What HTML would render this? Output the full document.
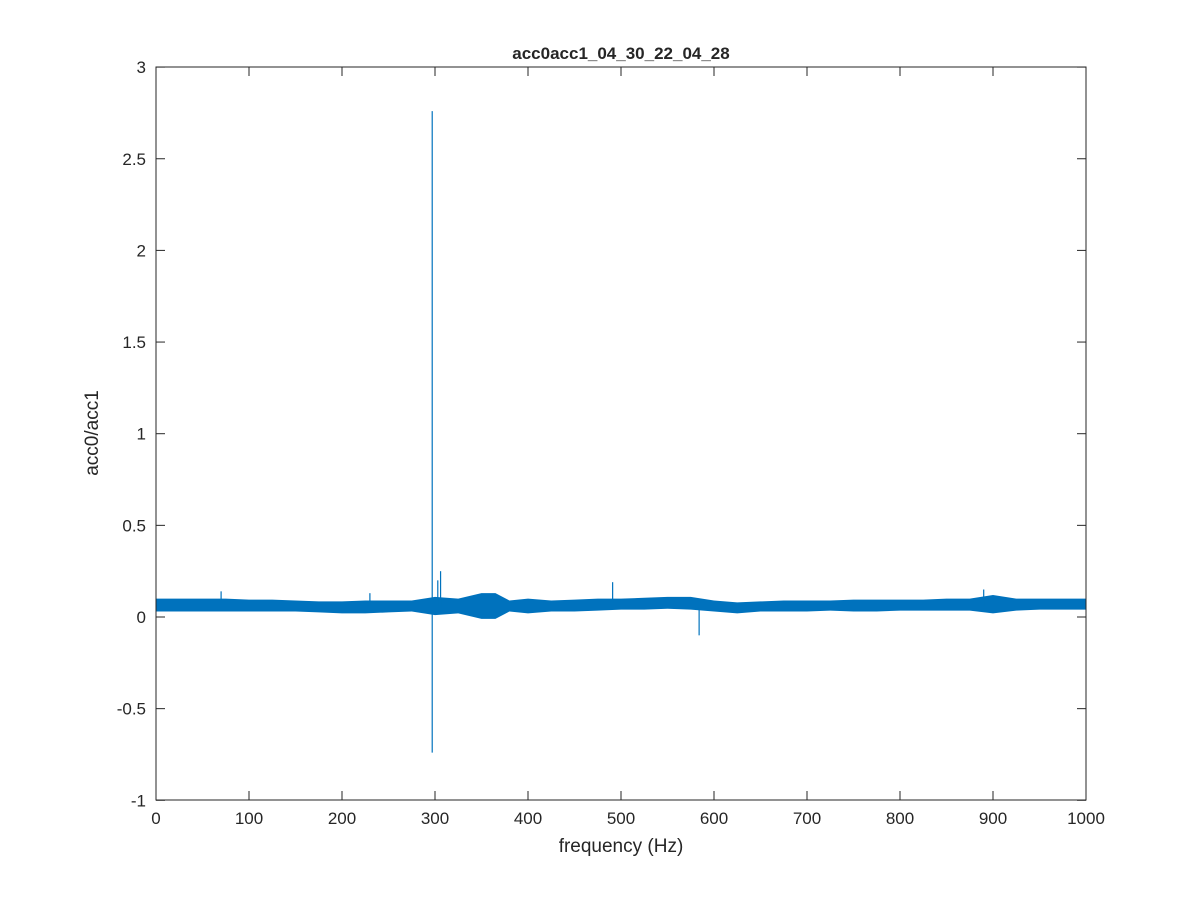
<!DOCTYPE html>
<html><head><meta charset="utf-8"><style>
body{margin:0;background:#fff;}
svg text{font-family:"Liberation Sans",sans-serif;fill:#262626;}
</style></head><body>
<svg id="chart" width="1200" height="900" xmlns="http://www.w3.org/2000/svg">
<rect width="1200" height="900" fill="#fff"/>
<text x="621" y="59" text-anchor="middle" font-size="17" font-weight="bold" fill="#000">acc0acc1_04_30_22_04_28</text>
<g id="plot"></g>
<text x="621" y="852" text-anchor="middle" font-size="19">frequency (Hz)</text>
<text transform="translate(98,433) rotate(-90)" text-anchor="middle" font-size="19">acc0/acc1</text>
</svg>
<script>
const xTicks=[0,100,200,300,400,500,600,700,800,900,1000];
const yTicks=[-1,-0.5,0,0.5,1,1.5,2,2.5,3];
const binFreq=[0,25,50,75,100,125,150,175,200,225,250,275,300,325,350,365,380,400,425,450,475,500,525,550,575,600,625,650,675,700,725,750,775,800,825,850,875,900,925,950,975,1000];
const binLo=[0.03,0.03,0.03,0.03,0.03,0.03,0.03,0.025,0.02,0.02,0.025,0.03,0.01,0.02,-0.01,-0.01,0.03,0.02,0.03,0.03,0.035,0.04,0.04,0.045,0.04,0.03,0.02,0.03,0.03,0.03,0.035,0.03,0.03,0.035,0.035,0.035,0.035,0.02,0.035,0.04,0.04,0.04];
const binHi=[0.1,0.1,0.1,0.1,0.095,0.095,0.09,0.085,0.085,0.09,0.09,0.09,0.11,0.1,0.13,0.13,0.09,0.1,0.09,0.095,0.1,0.1,0.105,0.11,0.11,0.09,0.08,0.085,0.09,0.09,0.09,0.095,0.095,0.095,0.095,0.1,0.1,0.12,0.1,0.1,0.1,0.1];
const spikeFreq=[297,297,303,306,230,491,584,890,70];
const spikeVal=[2.76,-0.74,0.2,0.25,0.13,0.19,-0.1,0.15,0.14];
const X=v=>156+(v/1000)*930;
const Y=v=>617-(v)*183.3;
const NS='http://www.w3.org/2000/svg';
const g=document.getElementById('plot');
function mk(t,a){const e=document.createElementNS(NS,t);for(const k in a)e.setAttribute(k,a[k]);g.appendChild(e);return e;}
// band
let pts=binFreq.map((f,i)=>X(f)+','+Y(binHi[i]));
pts=pts.concat(binFreq.map((f,i)=>X(f)+','+Y(binLo[i])).reverse());
const band=mk('polygon',{points:pts.join(' '),fill:'#0072BD'});


spikeFreq.forEach((f,i)=>{
  const l=mk('line',{x1:X(f),x2:X(f),y1:Y(0.06),y2:Y(spikeVal[i]),stroke:'#0072BD','stroke-width':1.2});
  
  
});
// axes box
const box=mk('rect',{x:156,y:67,width:930,height:733,fill:'none',stroke:'#262626','stroke-width':1});


xTicks.forEach(t=>{
  const x=X(t);
  mk('line',{x1:x,x2:x,y1:800,y2:791,stroke:'#262626'});
  mk('line',{x1:x,x2:x,y1:67,y2:76,stroke:'#262626'});
  const tx=mk('text',{x:x,y:824,'text-anchor':'middle','font-size':17});
  tx.textContent=t;
  
  
});
yTicks.forEach(t=>{
  const y=Y(t);
  mk('line',{x1:156,x2:165,y1:y,y2:y,stroke:'#262626'});
  mk('line',{x1:1086,x2:1077,y1:y,y2:y,stroke:'#262626'});
  const tx=mk('text',{x:146,y:y+6,'text-anchor':'end','font-size':17});
  tx.textContent=t;
  
  
});
</script>
</body></html>
